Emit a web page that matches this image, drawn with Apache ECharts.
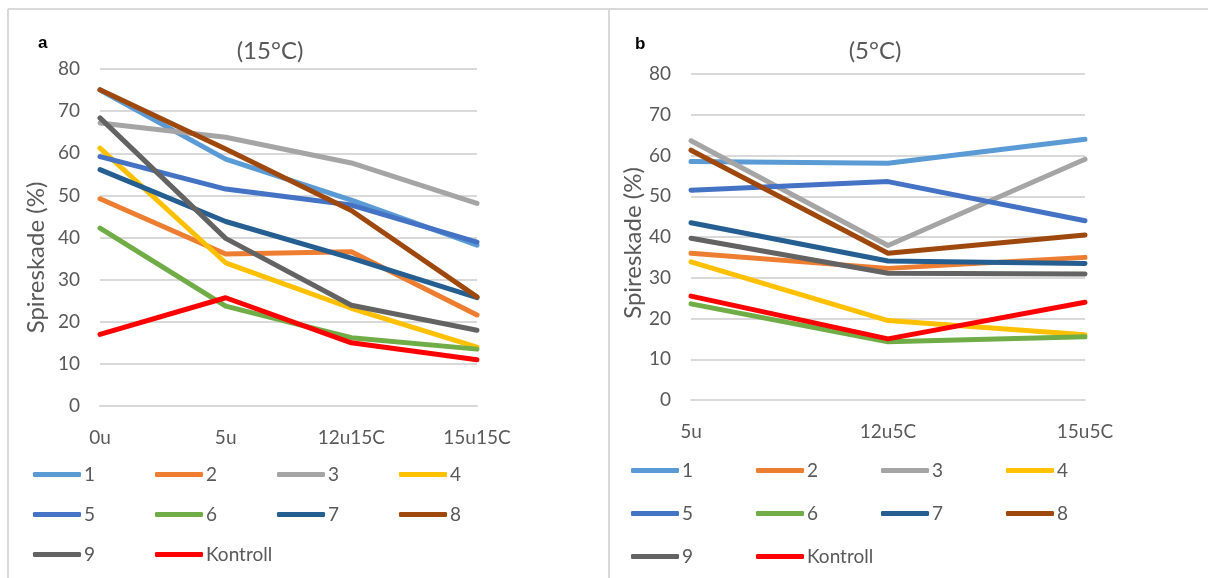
<!DOCTYPE html>
<html>
<head>
    <meta charset="utf-8">
    <title>Spireskade</title>
    <script src="https://cdn.jsdelivr.net/npm/echarts@6/dist/echarts.min.js"></script>
</head>
<body style="margin:0;background:#fff">
    <div id="main" style="width:1208px;height:578px;"></div>
    <script>
        // kategorier
        var catA = ['0u', '5u', '12u15C', '15u15C'];
        var catB = ['5u', '12u5C', '15u5C'];
        var names = ['1', '2', '3', '4', '5', '6', '7', '8', '9', 'Kontroll'];
        var colors = ['#5B9BD5', '#ED7D31', '#A5A5A5', '#FFC000', '#4472C4',
            '#70AD47', '#255E91', '#9E480E', '#636363', '#FF0000'];

        // (15°C)
        var a1 = [75, 58.6, 48.9, 38.2];
        var a2 = [49.2, 36.1, 36.6, 21.6];
        var a3 = [67.2, 63.8, 57.7, 48.1];
        var a4 = [61.2, 34.0, 23.2, 14.0];
        var a5 = [59.2, 51.5, 47.7, 38.9];
        var a6 = [42.2, 23.7, 16.2, 13.5];
        var a7 = [56.1, 43.8, 35.1, 25.7];
        var a8 = [75.1, 61, 46.4, 25.9];
        var a9 = [68.4, 39.8, 23.9, 18.0];
        var aK = [17.0, 25.7, 15.0, 11.0];

        // (5°C)
        var b1 = [58.5, 58.1, 64.0];
        var b2 = [36.0, 32.3, 35.0];
        var b3 = [63.6, 37.9, 59.1];
        var b4 = [33.9, 19.5, 16.0];
        var b5 = [51.5, 53.6, 44.0];
        var b6 = [23.6, 14.3, 15.5];
        var b7 = [43.5, 34.1, 33.5];
        var b8 = [61.3, 36.0, 40.5];
        var b9 = [39.7, 31.1, 30.9];
        var bK = [25.5, 15.0, 24.0];

        var dataA = [a1, a2, a3, a4, a5, a6, a7, a8, a9, aK];
        var dataB = [b1, b2, b3, b4, b5, b6, b7, b8, b9, bK];

        var font = 'Lato, "Open Sans", sans-serif';
        var txt = '#595959';
        var gridCol = '#D9D9D9';

        var myChart = echarts.init(document.getElementById('main'));

        function xAx(cats, gi) {
            return {
                type: 'category', gridIndex: gi, data: cats, boundaryGap: false,
                axisLine: { lineStyle: { color: gridCol, width: 2 } },
                axisTick: { show: false },
                axisLabel: { color: txt, fontSize: 19, fontFamily: font, margin: 22 }
            };
        }
        function yAx(gi, gap, pad) {
            return {
                type: 'value', gridIndex: gi, min: 0, max: 80, interval: 10,
                name: 'Spireskade (%)', nameLocation: 'middle', nameGap: gap, nameRotate: 90,
                nameTextStyle: { color: txt, fontSize: 24, fontFamily: font, padding: [0, pad, 0, 0] },
                axisLine: { show: false }, axisTick: { show: false },
                axisLabel: { color: txt, fontSize: 19, fontFamily: font, margin: 20 },
                splitLine: { lineStyle: { color: gridCol, width: 2 } }
            };
        }
        function legend(left, top, gap) {
            return {
                left: left, top: top, width: 540, itemGap: gap, padding: 0,
                itemWidth: 48, itemHeight: 5, icon: 'roundRect',
                textStyle: { color: txt, fontSize: 19, fontFamily: font, width: 60, lineHeight: 29, padding: [0, 0, 0, -2] },
                data: names
            };
        }

        var series = [];
        names.forEach(function (n, i) {
            series.push({
                name: n, type: 'line', xAxisIndex: 0, yAxisIndex: 0, data: dataA[i],
                symbol: 'none', color: colors[i],
                lineStyle: { width: 5, cap: 'round', join: 'round' }
            });
        });
        names.forEach(function (n, i) {
            series.push({
                name: n, type: 'line', xAxisIndex: 1, yAxisIndex: 1, data: dataB[i],
                symbol: 'none', color: colors[i],
                lineStyle: { width: 5, cap: 'round', join: 'round' }
            });
        });

        var option = {
            animation: false,
            backgroundColor: '#fff',
            title: [
                { text: '(15°C)', left: 265, top: 34, textAlign: 'center',
                    textStyle: { color: txt, fontSize: 24, fontWeight: 'normal', fontFamily: font } },
                { text: '(5°C)', left: 870, top: 34, textAlign: 'center',
                    textStyle: { color: txt, fontSize: 24, fontWeight: 'normal', fontFamily: font } },
                { text: 'a', left: 33, top: 30,
                    textStyle: { color: '#000', fontSize: 17, fontWeight: 'bold', fontFamily: '"Liberation Sans", sans-serif' } },
                { text: 'b', left: 630, top: 31,
                    textStyle: { color: '#000', fontSize: 17, fontWeight: 'bold', fontFamily: '"Liberation Sans", sans-serif' } }
            ],
            grid: [
                { left: 100, right: 731, top: 69, bottom: 172 },
                { left: 691, right: 123, top: 74, bottom: 178 }
            ],
            xAxis: [xAx(catA, 0), xAx(catB, 1)],
            yAxis: [yAx(0, 52, 40), yAx(1, 46, 12)],
            legend: [legend(33, 460, 11), legend(631, 456, 14)],
            graphic: [
                { type: 'line', shape: { x1: 8, y1: 9, x2: 1208, y2: 9 }, style: { stroke: gridCol, lineWidth: 2 } },
                { type: 'line', shape: { x1: 8, y1: 9, x2: 8, y2: 578 }, style: { stroke: gridCol, lineWidth: 2 } },
                { type: 'line', shape: { x1: 609, y1: 9, x2: 609, y2: 578 }, style: { stroke: gridCol, lineWidth: 2 } }
            ],
            series: series
        };

        myChart.setOption(option);
    </script>
</body>
</html>
